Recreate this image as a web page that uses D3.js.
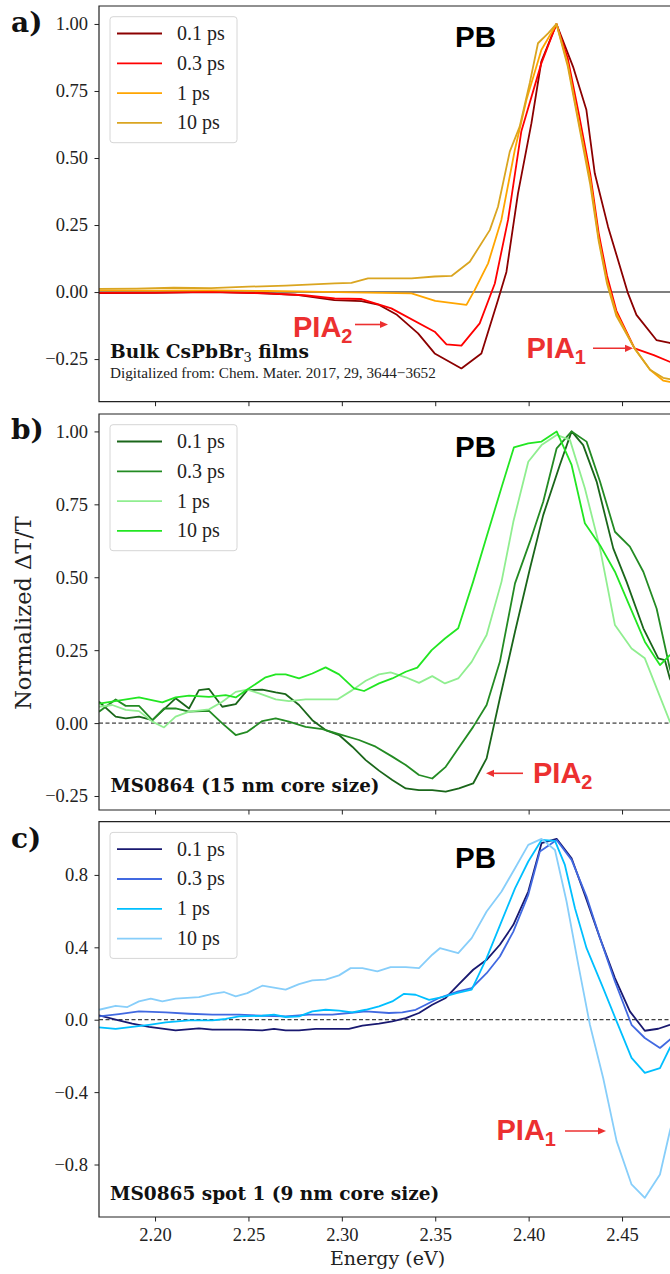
<!DOCTYPE html>
<html>
<head>
<meta charset="utf-8">
<script src="https://cdn.jsdelivr.net/npm/d3@7"></script>
<style>
  body { margin: 0; background: #fff; }
  svg { display: block; }
</style>
</head>
<body>
<div id="chart"></div>
<script>
'use strict';

// ---- data (energy in eV, normalized dT/T) ----
const delayLabels = ['0.1 ps', '0.3 ps', '1 ps', '10 ps'];
const energyTicks = [2.20, 2.25, 2.30, 2.35, 2.40, 2.45];
const ticksAB = [-0.25, 0, 0.25, 0.5, 0.75, 1.0];
const ticksC = [-0.8, -0.4, 0, 0.4, 0.8];

// a) bulk CsPbBr3 films
const bulk01 = [[2.170,-0.004],[2.20,-0.003],[2.23,0.0],[2.255,-0.004],[2.275,-0.01],[2.296,-0.03],[2.3105,-0.034],[2.32,-0.048],[2.3295,-0.085],[2.3408,-0.154],[2.3497,-0.229],[2.364,-0.285],[2.3747,-0.229],[2.3836,-0.03],[2.3881,0.075],[2.3943,0.368],[2.4015,0.63],[2.4068,0.86],[2.4149,1.0],[2.4238,0.84],[2.4309,0.68],[2.4354,0.443],[2.4425,0.244],[2.4532,-0.005],[2.4577,-0.085],[2.4684,-0.179],[2.4755,-0.19],[2.48,-0.2]];
const bulk03 = [[2.170,-0.003],[2.20,-0.002],[2.23,0.001],[2.26,-0.005],[2.28,-0.012],[2.2962,-0.024],[2.3105,-0.026],[2.3265,-0.061],[2.3497,-0.148],[2.356,-0.195],[2.364,-0.2],[2.3738,-0.117],[2.3819,0.032],[2.389,0.27],[2.3961,0.6],[2.4068,0.853],[2.4149,1.0],[2.421,0.87],[2.427,0.66],[2.433,0.44],[2.4375,0.22],[2.442,0.06],[2.447,-0.07],[2.4567,-0.21],[2.467,-0.235],[2.4755,-0.26],[2.48,-0.27]];
const bulk1 = [[2.170,0.006],[2.20,0.005],[2.23,0.006],[2.26,0.004],[2.29,0.001],[2.3373,-0.005],[2.35,-0.033],[2.3667,-0.048],[2.3711,0.007],[2.3783,0.107],[2.3854,0.269],[2.3926,0.53],[2.3988,0.716],[2.4068,0.903],[2.4149,1.0],[2.421,0.85],[2.427,0.63],[2.433,0.42],[2.4375,0.2],[2.442,0.04],[2.447,-0.08],[2.4567,-0.21],[2.465,-0.29],[2.472,-0.33],[2.4755,-0.335],[2.48,-0.33]];
const bulk10 = [[2.170,0.012],[2.19,0.013],[2.21,0.016],[2.23,0.015],[2.25,0.02],[2.27,0.024],[2.2962,0.032],[2.3051,0.034],[2.314,0.051],[2.3373,0.051],[2.3497,0.058],[2.3587,0.060],[2.3685,0.113],[2.3792,0.231],[2.3836,0.318],[2.3899,0.524],[2.3952,0.617],[2.4006,0.78],[2.405,0.928],[2.4104,0.965],[2.4149,1.0],[2.421,0.84],[2.427,0.62],[2.433,0.40],[2.4375,0.19],[2.442,0.03],[2.447,-0.09],[2.4567,-0.21],[2.465,-0.29],[2.472,-0.32],[2.4755,-0.325],[2.48,-0.32]];

// b) MS0864
const ms64_01 = [[2.170,0.073],[2.1789,0.022],[2.1843,0.016],[2.1914,0.022],[2.1986,0.010],[2.2110,0.085],[2.2182,0.050],[2.2235,0.113],[2.2289,0.117],[2.2360,0.056],[2.2432,0.065],[2.2494,0.113],[2.2574,0.115],[2.2646,0.105],[2.2699,0.099],[2.2771,0.062],[2.2842,0.010],[2.2913,-0.024],[2.2985,-0.041],[2.3056,-0.081],[2.3128,-0.127],[2.3199,-0.163],[2.3270,-0.195],[2.3342,-0.224],[2.3413,-0.230],[2.3484,-0.230],[2.3556,-0.235],[2.3627,-0.224],[2.3703,-0.207],[2.3775,-0.121],[2.3846,0.085],[2.3927,0.313],[2.4007,0.530],[2.4078,0.713],[2.4167,0.885],[2.4230,1.0],[2.4292,0.953],[2.4364,0.828],[2.4453,0.599],[2.4524,0.485],[2.4614,0.325],[2.4694,0.222],[2.4729,0.216],[2.4756,0.153],[2.48,0.10]];
const ms64_03 = [[2.170,0.039],[2.1789,0.081],[2.1843,0.059],[2.1914,0.059],[2.1986,0.010],[2.2048,0.050],[2.2110,0.050],[2.2182,0.039],[2.2289,0.042],[2.2360,-0.001],[2.2432,-0.041],[2.2494,-0.030],[2.2574,0.007],[2.2646,0.016],[2.2717,0.005],[2.2806,-0.013],[2.2896,-0.021],[2.2985,-0.038],[2.3092,-0.058],[2.3181,-0.081],[2.3270,-0.115],[2.3342,-0.144],[2.3413,-0.178],[2.3484,-0.190],[2.3556,-0.150],[2.3623,-0.087],[2.3703,-0.013],[2.3775,0.062],[2.3846,0.210],[2.3927,0.479],[2.4007,0.622],[2.4078,0.759],[2.4150,0.942],[2.4230,1.0],[2.4310,0.965],[2.4382,0.828],[2.4462,0.656],[2.4542,0.605],[2.4614,0.519],[2.4685,0.393],[2.4756,0.187],[2.48,0.10]];
const ms64_1 = [[2.170,0.056],[2.1771,0.062],[2.1843,0.045],[2.1914,0.041],[2.1986,0.005],[2.2048,-0.015],[2.2110,0.022],[2.2182,0.039],[2.2289,0.047],[2.2360,0.073],[2.2432,0.107],[2.2494,0.115],[2.2557,0.102],[2.2646,0.081],[2.2717,0.075],[2.2806,0.081],[2.2896,0.081],[2.2976,0.081],[2.3056,0.113],[2.3128,0.145],[2.3199,0.167],[2.3261,0.174],[2.3342,0.157],[2.3413,0.138],[2.3484,0.161],[2.3552,0.136],[2.3623,0.153],[2.3695,0.210],[2.3775,0.302],[2.3855,0.485],[2.3918,0.690],[2.3998,0.896],[2.4069,0.953],[2.4150,0.988],[2.4221,0.971],[2.4301,0.805],[2.4382,0.599],[2.4462,0.336],[2.4551,0.256],[2.4622,0.222],[2.4756,0.005],[2.48,-0.05]];
const ms64_10 = [[2.170,0.067],[2.1914,0.088],[2.2039,0.071],[2.2110,0.088],[2.2182,0.094],[2.2289,0.090],[2.2378,0.096],[2.2432,0.088],[2.2494,0.115],[2.2592,0.157],[2.2646,0.167],[2.2699,0.167],[2.2771,0.153],[2.2842,0.170],[2.2913,0.191],[2.2985,0.167],[2.3065,0.119],[2.3119,0.110],[2.3199,0.136],[2.3270,0.153],[2.3342,0.176],[2.3404,0.190],[2.3481,0.250],[2.3552,0.290],[2.3623,0.325],[2.3703,0.485],[2.3775,0.639],[2.3856,0.810],[2.3921,0.945],[2.3998,0.959],[2.4069,0.965],[2.4150,1.0],[2.4230,0.885],[2.4301,0.685],[2.4382,0.610],[2.4462,0.519],[2.4542,0.399],[2.4622,0.279],[2.4703,0.199],[2.4756,0.233],[2.48,0.24]];

// c) MS0865 spot 1
const ms65_01 = [[2.170,0.024],[2.1789,0.0],[2.1878,-0.022],[2.1968,-0.040],[2.2110,-0.059],[2.2235,-0.048],[2.2307,-0.055],[2.2449,-0.055],[2.2574,-0.059],[2.2637,-0.051],[2.2699,-0.059],[2.2771,-0.059],[2.2860,-0.051],[2.2949,-0.051],[2.3038,-0.051],[2.3110,-0.033],[2.3199,-0.022],[2.3270,-0.009],[2.3342,0.009],[2.3413,0.037],[2.3484,0.083],[2.3556,0.120],[2.3623,0.193],[2.3703,0.276],[2.3775,0.331],[2.3846,0.414],[2.3918,0.524],[2.3998,0.708],[2.4069,0.975],[2.4150,0.999],[2.4230,0.892],[2.4301,0.690],[2.4382,0.451],[2.4462,0.230],[2.4542,0.046],[2.4622,-0.061],[2.4694,-0.050],[2.4756,-0.028],[2.48,-0.01]];
const ms65_03 = [[2.170,0.018],[2.1807,0.031],[2.1914,0.046],[2.2057,0.040],[2.2182,0.033],[2.2307,0.028],[2.2449,0.028],[2.2574,0.022],[2.2699,0.018],[2.2824,0.028],[2.2949,0.028],[2.3038,0.037],[2.3128,0.046],[2.3252,0.037],[2.3324,0.040],[2.3395,0.055],[2.3449,0.083],[2.3520,0.120],[2.3623,0.156],[2.3695,0.175],[2.3775,0.257],[2.3846,0.349],[2.3918,0.487],[2.3998,0.690],[2.4060,0.929],[2.4150,0.993],[2.4230,0.883],[2.4310,0.680],[2.4382,0.451],[2.4462,0.211],[2.4551,-0.028],[2.4622,-0.101],[2.4703,-0.156],[2.4756,-0.110],[2.48,-0.08]];
const ms65_1 = [[2.170,-0.042],[2.1789,-0.051],[2.1878,-0.040],[2.1968,-0.028],[2.2057,-0.015],[2.2182,-0.004],[2.2307,-0.004],[2.2378,0.004],[2.2449,0.018],[2.2574,0.022],[2.2637,0.028],[2.2699,0.015],[2.2771,0.018],[2.2842,0.046],[2.2913,0.055],[2.2985,0.050],[2.3056,0.040],[2.3128,0.055],[2.3199,0.074],[2.3270,0.101],[2.3333,0.143],[2.3395,0.138],[2.3467,0.110],[2.3538,0.125],[2.3614,0.147],[2.3695,0.166],[2.3775,0.340],[2.3855,0.543],[2.3927,0.726],[2.3998,0.874],[2.4069,0.993],[2.4141,0.988],[2.4194,0.855],[2.4248,0.616],[2.4310,0.395],[2.4399,0.175],[2.4471,-0.009],[2.4551,-0.211],[2.4622,-0.294],[2.4703,-0.267],[2.4756,-0.156],[2.48,-0.08]];
const ms65_10 = [[2.170,0.055],[2.1789,0.077],[2.1852,0.070],[2.1914,0.101],[2.1977,0.116],[2.2039,0.101],[2.2110,0.116],[2.2235,0.125],[2.2307,0.143],[2.2369,0.153],[2.2432,0.129],[2.2494,0.147],[2.2574,0.188],[2.2699,0.166],[2.2771,0.197],[2.2842,0.217],[2.2913,0.221],[2.2985,0.245],[2.3047,0.285],[2.3110,0.285],[2.3190,0.267],[2.3261,0.291],[2.3342,0.291],[2.3413,0.285],[2.3484,0.359],[2.3525,0.395],[2.3623,0.368],[2.3695,0.451],[2.3775,0.598],[2.3855,0.708],[2.3927,0.837],[2.3998,0.966],[2.4069,0.999],[2.4141,0.938],[2.4203,0.653],[2.4266,0.303],[2.4328,-0.028],[2.4399,-0.322],[2.4471,-0.671],[2.4551,-0.910],[2.4622,-0.984],[2.4703,-0.855],[2.4756,-0.616],[2.48,-0.45]];

// ---- layout ----
const width = 670, height = 1274;
const plotLeft = 99, plotRight = 700;   // right edge is cut off like the original
const serif = '"Liberation Serif", "DejaVu Serif", serif';
const boldSerif = '"DejaVu Serif", serif';
const sans = '"Liberation Sans", Arial, sans-serif';
const annotRed = '#ec3030';

const panels = [
    {
        top: 6, bottom: 401.7, yDomain: [-0.409, 1.067], yTicks: ticksAB, yFmt: d3.format('.2f'),
        series: [bulk01, bulk03, bulk1, bulk10],
        colors: ['#8b0000', '#ff0000', '#ffa500', '#daa520'],
        solidZero: true, tag: 'a)', tagY: 32, pbY: 46.7
    },
    {
        top: 414, bottom: 810, yDomain: [-0.298, 1.0597], yTicks: ticksAB, yFmt: d3.format('.2f'),
        series: [ms64_01, ms64_03, ms64_1, ms64_10],
        colors: ['#1a661a', '#238b23', '#90ee90', '#22e622'],
        solidZero: false, tag: 'b)', tagY: 439, pbY: 457
    },
    {
        top: 821.7, bottom: 1217, yDomain: [-1.090, 1.094], yTicks: ticksC, yFmt: d3.format('.1f'),
        series: [ms65_01, ms65_03, ms65_1, ms65_10],
        colors: ['#191970', '#4169e1', '#00bfff', '#87cefa'],
        solidZero: false, tag: 'c)', tagY: 848, pbY: 868
    }
];

const svg = d3.select('#chart').append('svg')
    .attr('width', width)
    .attr('height', height)
    .style('background', '#fff');

const defs = svg.append('defs');

const x = d3.scaleLinear()
    .domain([2.17, 2.17 + (plotRight - plotLeft) / 1868])
    .range([plotLeft, plotRight]);

function arrow(x1, x2, y) {
    // red arrow with a small filled head at x2
    const dir = x2 > x1 ? 1 : -1;
    const g = svg.append('g');
    g.append('line')
        .attr('x1', x1).attr('x2', x2 - dir * 6)
        .attr('y1', y).attr('y2', y)
        .attr('stroke', annotRed).attr('stroke-width', 1.6);
    g.append('path')
        .attr('d', `M${x2},${y} L${x2 - dir * 8},${y - 3.6} L${x2 - dir * 8},${y + 3.6} Z`)
        .attr('fill', annotRed);
}

function piaLabel(xp, yBase, sub) {
    const t = svg.append('text')
        .attr('x', xp).attr('y', yBase)
        .attr('font-family', sans).attr('font-weight', 'bold')
        .attr('font-size', 29).attr('fill', annotRed);
    t.append('tspan').text('PIA');
    t.append('tspan').attr('font-size', 20).attr('dy', 6).text(sub);
}

panels.forEach((p, i) => {
    const y = d3.scaleLinear().domain(p.yDomain).range([p.bottom, p.top]);
    const g = svg.append('g');

    const clipId = 'clip' + i;
    defs.append('clipPath').attr('id', clipId)
        .append('rect')
        .attr('x', plotLeft).attr('y', p.top)
        .attr('width', plotRight - plotLeft).attr('height', p.bottom - p.top);

    // zero line
    g.append('line')
        .attr('x1', plotLeft).attr('x2', plotRight)
        .attr('y1', y(0)).attr('y2', y(0))
        .attr('stroke', p.solidZero ? '#555' : '#111')
        .attr('stroke-width', p.solidZero ? 1.5 : 1)
        .attr('stroke-dasharray', p.solidZero ? null : '4,2.5');

    // spectra
    const line = d3.line().x(d => x(d[0])).y(d => y(d[1]));
    g.append('g').attr('clip-path', `url(#${clipId})`)
        .selectAll('path')
        .data(p.series)
        .join('path')
        .attr('d', line)
        .attr('fill', 'none')
        .attr('stroke', (d, k) => p.colors[k])
        .attr('stroke-width', 1.8)
        .attr('stroke-linejoin', 'round');

    // axes
    const yAxis = g.append('g')
        .attr('transform', `translate(${plotLeft},0)`)
        .call(d3.axisLeft(y).tickValues(p.yTicks).tickFormat(p.yFmt).tickSize(4.5).tickPadding(6.5));
    const xAxis = g.append('g')
        .attr('transform', `translate(0,${p.bottom})`)
        .call(d3.axisBottom(x).tickValues(energyTicks)
            .tickFormat(i === 2 ? d3.format('.2f') : () => '')
            .tickSize(4.5).tickPadding(6.5));
    [yAxis, xAxis].forEach(ax => {
        ax.select('.domain').remove();
        ax.selectAll('line').attr('stroke', '#222').attr('stroke-width', 1);
        ax.selectAll('text')
            .attr('fill', '#222')
            .attr('font-family', serif)
            .attr('font-size', 18.5);
    });

    // frame (right side is outside the picture)
    g.append('path')
        .attr('d', `M${plotRight},${p.top} H${plotLeft} V${p.bottom} H${plotRight}`)
        .attr('fill', 'none')
        .attr('stroke', '#222')
        .attr('stroke-width', 1.2);

    // legend
    const lg = g.append('g').attr('transform', `translate(110,${p.top + 10.7})`);
    lg.append('rect')
        .attr('width', 127).attr('height', 126)
        .attr('rx', 3).attr('ry', 3)
        .attr('fill', 'rgba(255,255,255,0.8)')
        .attr('stroke', '#d6d6d6').attr('stroke-width', 1);
    delayLabels.forEach((lab, k) => {
        const ry = 16.8 + k * 29.8;
        lg.append('line')
            .attr('x1', 7).attr('x2', 52)
            .attr('y1', ry).attr('y2', ry)
            .attr('stroke', p.colors[k]).attr('stroke-width', 1.8);
        lg.append('text')
            .attr('x', 67).attr('y', ry + 6.5)
            .attr('font-family', serif).attr('font-size', 20)
            .attr('fill', '#222')
            .text(lab);
    });

    // panel tag
    svg.append('text')
        .attr('x', 11).attr('y', p.tagY)
        .attr('font-family', boldSerif).attr('font-weight', 'bold')
        .attr('font-size', 28).attr('fill', '#111')
        .text(p.tag);

    // PB label
    svg.append('text')
        .attr('x', 455).attr('y', p.pbY)
        .attr('font-family', sans).attr('font-weight', 'bold')
        .attr('font-size', 29.5).attr('fill', '#000')
        .text('PB');
});

// ---- annotations ----
piaLabel(293, 336.5, '2');
arrow(355, 388, 324.5);
piaLabel(526.5, 358.3, '1');
arrow(593, 633, 348.3);

piaLabel(533, 783.3, '2');
arrow(523, 486, 773.3);

piaLabel(496.5, 1140, '1');
arrow(565, 606, 1131);

// sample labels
const bulkLabel = svg.append('text')
    .attr('x', 110).attr('y', 358.3)
    .attr('font-family', boldSerif).attr('font-weight', 'bold')
    .attr('font-size', 18.6).attr('fill', '#111');
bulkLabel.append('tspan').text('Bulk CsPbBr');
bulkLabel.append('tspan').attr('font-size', 13).attr('font-weight', 'normal').attr('dy', 3.5).text('3');
bulkLabel.append('tspan').attr('dy', -3.5).text(' films');

svg.append('text')
    .attr('x', 110).attr('y', 378.3)
    .attr('font-family', serif).attr('font-size', 15.2)
    .attr('fill', '#222')
    .text('Digitalized from: Chem. Mater. 2017, 29, 3644\u22123652');

svg.append('text')
    .attr('x', 110.5).attr('y', 791.7)
    .attr('font-family', boldSerif).attr('font-weight', 'bold')
    .attr('font-size', 18.3).attr('fill', '#111')
    .text('MS0864 (15 nm core size)');

svg.append('text')
    .attr('x', 110).attr('y', 1200)
    .attr('font-family', boldSerif).attr('font-weight', 'bold')
    .attr('font-size', 18.5).attr('fill', '#111')
    .text('MS0865 spot 1 (9 nm core size)');

// axis titles
svg.append('text')
    .attr('x', 387.5).attr('y', 1265)
    .attr('text-anchor', 'middle')
    .attr('font-family', boldSerif).attr('font-size', 19)
    .attr('fill', '#222')
    .text('Energy (eV)');

svg.append('text')
    .attr('transform', 'translate(31,613) rotate(-90)')
    .attr('text-anchor', 'middle')
    .attr('font-family', boldSerif).attr('font-size', 22.5)
    .attr('fill', '#222')
    .text('Normalized \u0394T/T');
</script>
</body>
</html>
